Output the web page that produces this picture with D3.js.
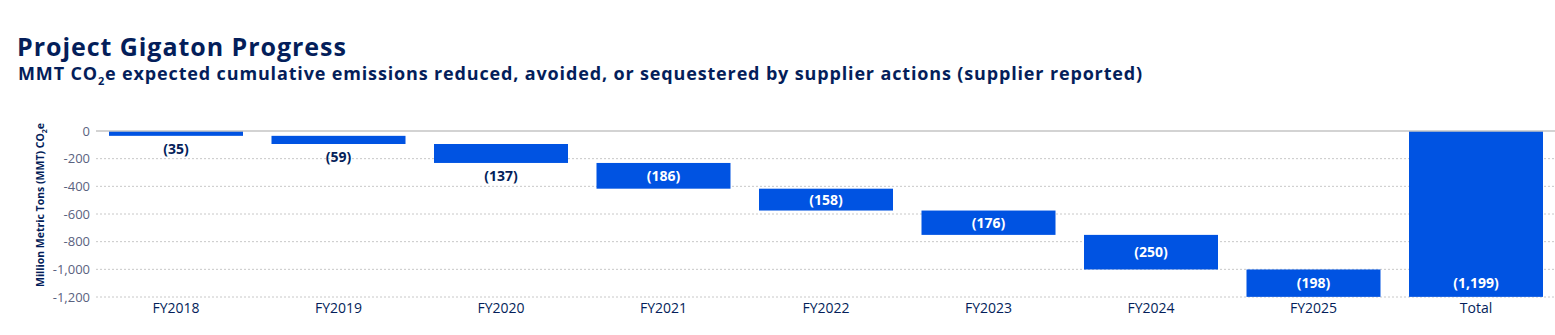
<!DOCTYPE html>
<html>
<head>
<meta charset="utf-8">
<script src="https://cdn.jsdelivr.net/npm/d3@7"></script>
<style>
  body { margin: 0; background: #fff; }
  svg text { font-family: "Open Sans", "Noto Sans", sans-serif; }
</style>
</head>
<body>
<svg id="svg" width="1555" height="335"></svg>
<script>
	// chart data
	var categories = ["FY2018","FY2019","FY2020","FY2021","FY2022","FY2023","FY2024","FY2025","Total"];
	var values = [-35, -59, -137, -186, -158, -176, -250, -198, -1199];
	var labels = ["(35)","(59)","(137)","(186)","(158)","(176)","(250)","(198)","(1,199)"];
	var yTicks = [0, -200, -400, -600, -800, -1000, -1200];

	var navy = "#041e5a";
	var blue = "#0053e2";

	var svg = d3.select("#svg");

	var margin = { top: 131 };

	// waterfall: running total, last bar is the total from 0
	var running = 0;
	var bars = categories.map(function(c, i){
		var start, end;
		if (c === "Total") { start = 0; end = values[i]; }
		else { start = running; end = running + values[i]; running = end; }
		return { cat: c, start: start, end: end, label: labels[i], total: c === "Total" };
	});

	var x = d3.scaleBand().domain(categories).range([94.75, 1557.25]).paddingInner(0.1754).paddingOuter(0.0877);
	var y = d3.scaleLinear().domain([0, -1200]).range([margin.top, margin.top + 166]);

	// titles
	svg.append("text")
		.attr("x", 17).attr("y", 56)
		.style("font-size", "25px").style("font-weight", 700)
		.style("fill", navy).style("letter-spacing", "0.95px")
		.text("Project Gigaton Progress");

	var sub = svg.append("text")
		.attr("x", 18).attr("y", 80)
		.style("font-size", "18px").style("font-weight", 700)
		.style("fill", navy).style("letter-spacing", "0.85px");
	sub.append("tspan").text("MMT CO");
	sub.append("tspan").attr("dy", 5).style("font-size", "11px").text("2");
	sub.append("tspan").attr("dy", -5).text("e expected cumulative emissions reduced, avoided, or sequestered by supplier actions (supplier reported)");

	// grid lines
	svg.append("g").selectAll("line")
		.data(yTicks.filter(function(d){ return d !== 0; }))
		.enter().append("line")
		.attr("x1", 96).attr("x2", 1555)
		.attr("y1", function(d){ return y(d); }).attr("y2", function(d){ return y(d); })
		.style("stroke", "#c8c8c8").style("stroke-width", 1).style("stroke-dasharray", "2,2");

	// y axis labels
	var yAxis = d3.axisLeft(y).tickValues(yTicks).tickSize(0).tickPadding(0)
		.tickFormat(function(d){ return d3.format(",")(d).replace("−", "-"); });
	var yg = svg.append("g").attr("transform", "translate(90,0)").call(yAxis);
	yg.select(".domain").remove();
	yg.selectAll("text").style("font-size", "13px").style("fill", "#5a6280")
		.style("font-family", "\"Open Sans\", sans-serif");

	var yl = svg.append("text")
		.attr("transform", "translate(44," + (margin.top + 74) + ") rotate(-90)")
		.attr("text-anchor", "middle")
		.style("font-size", "10.5px").style("font-weight", 700).style("fill", navy);
	yl.append("tspan").text("Million Metric Tons (MMT) CO");
	yl.append("tspan").attr("dy", 3).style("font-size", "7px").text("2");
	yl.append("tspan").attr("dy", -3).text("e");

	// bars
	svg.append("g").selectAll("rect")
		.data(bars)
		.enter().append("rect")
		.attr("x", function(d){ return x(d.cat); })
		.attr("width", x.bandwidth())
		.attr("y", function(d){ return y(Math.max(d.start, d.end)); })
		.attr("height", function(d){ return Math.abs(y(d.end) - y(d.start)); })
		.style("fill", blue);

	// zero line
	svg.append("line")
		.attr("x1", 96).attr("x2", 1555)
		.attr("y1", y(0)).attr("y2", y(0))
		.style("stroke", "#c4c4c4").style("stroke-width", 1.5);

	// value labels: below small bars, inside the rest
	var small = function(d){ return Math.abs(y(d.end) - y(d.start)) < 21; };
	svg.append("g").selectAll("text")
		.data(bars)
		.enter().append("text")
		.attr("x", function(d){ return x(d.cat) + x.bandwidth() / 2; })
		.attr("y", function(d){
			if (d.total) return y(d.end) - 9;
			if (small(d)) return y(d.end) + 18;
			return (y(d.start) + y(d.end)) / 2 + 5;
		})
		.attr("text-anchor", "middle")
		.style("font-size", "14px").style("font-weight", 700)
		.style("fill", function(d){ return small(d) ? navy : "#ffffff"; })
		.text(function(d){ return d.label; });

	// x axis labels
	var xAxis = d3.axisBottom(x).tickSize(0).tickPadding(0);
	var xg = svg.append("g").attr("transform", "translate(0,303)").call(xAxis);
	xg.select(".domain").remove();
	xg.selectAll("text").style("font-size", "14px").style("fill", navy)
		.style("font-family", "\"Open Sans\", sans-serif");
</script>
</body>
</html>
